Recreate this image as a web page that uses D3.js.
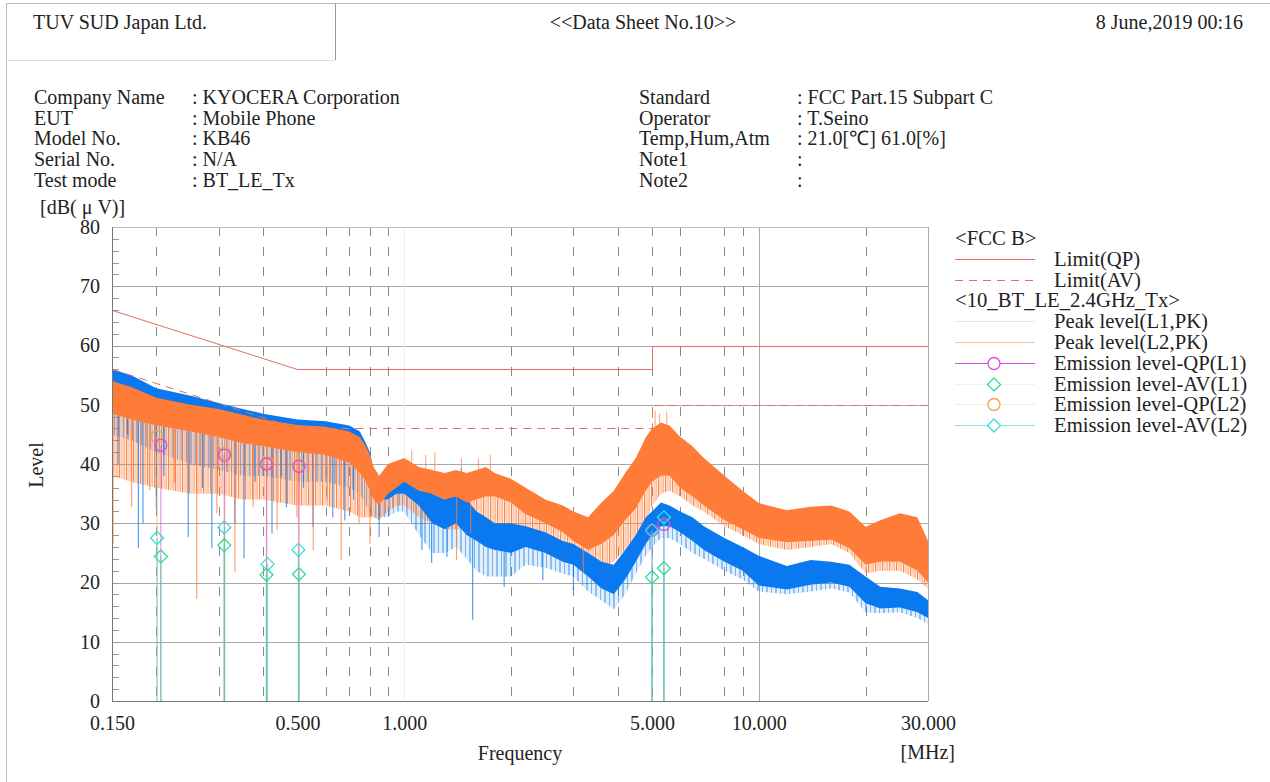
<!DOCTYPE html>
<html><head><meta charset="utf-8">
<script src="https://cdn.jsdelivr.net/npm/d3@7"></script>
<style>
body{margin:0;background:#fff}
svg{display:block}
text{font-family:"Liberation Serif","Times New Roman",serif;fill:#222;font-size:20px}
</style>
</head><body><svg id="c" width="1270" height="782"></svg>
<script>
// ---------- data ----------
const freq = [0.15,0.17,0.2,0.25,0.3,0.35,0.4,0.5,0.6,0.7,0.75,0.78,0.8,0.82,0.85,0.9,0.95,1.0,1.1,1.2,1.3,1.4,1.5,1.6,1.7,1.8,2.0,2.2,2.5,2.8,3.0,3.3,3.6,3.9,4.2,4.5,4.8,5.0,5.3,5.6,6.0,6.5,7.0,8.0,9.0,10,12,14,16,18,20,22,25,28,30];
// Peak level L1 (blue): top of trace, bottom of dense part, bottom of sparse part
const l1Top  = [56,55,52.8,51.5,50.3,49.3,48.5,47.5,47.2,46.5,45.5,43.5,42,39,37.5,37.5,38.5,38,37,35,34,35,34,32,31,30,30,29.5,28.5,27,26.5,25,23.5,23,25.5,28,31,32,33.5,33,32,31,29.5,27.5,26,24.5,22.8,23.8,23.5,23,21,19.3,19,18.4,17];
const l1Core = [53,52,50,49,48,47,46.5,45.5,45,44,41.5,38.5,36.5,35,34,34,35,35,33,30,29,30,28,27,26,25.5,25,26,25,23.5,23,21,19,18,20.5,23.5,26.5,28,29.5,29.5,28.5,27,25.5,23.5,22,19.5,18.8,19.6,20,19.3,16.5,15.6,15.8,15,14];
const l1Low  = [45,44,42,40,39,38,38,37,37,36,35,33,32,31,31,31,32,32,28,25,25,26,24,22,21,21,21,23,22.5,21.5,21,18.5,17,15.5,18,21.5,24.5,26,27.5,27.5,26.5,25,24,22,20.5,18.5,18,18.5,19,18.3,15,14.8,15,14,13];
// Peak level L2 (orange)
const l2Top  = [54,53,51.2,50,49.3,48.3,47.5,46.6,46.3,45.5,44.5,43,41.5,39.5,38,40,40.5,41,39.5,39,38.5,39,38.5,39,39.5,38.5,37.5,36,34,33,32,31,33.5,35.5,38.5,41,44.5,46,47,46.5,44.6,43,41,38,35.5,33.4,32.2,32.8,33,32,29.4,30.5,31.7,31,27];
const l2Core = [48.5,47.5,46.5,45.5,44.5,43.5,43,42,41.5,40.2,38.5,37,35.5,34,33,35,36,37,35.5,35,34,34.5,33.5,34,34.5,34.5,33.5,31.5,30,28.5,27,25.5,26.5,28,30.5,32.5,35.5,37,38,38,36,34.5,33,30.5,29,27.5,26.8,27,27.2,25.8,23,23.5,23.5,22,20];
const l2Low  = [38,37,36,35,35,34,34,33,33,32,31,31,31,31,30.5,32,33,33,31,30,29,29,29,30,30,30,30,28.5,27,26,24.5,22,22.5,23.5,25.5,27.5,30,33,35,35.5,34.5,33,32,29.5,28,26.5,25.5,26,26.5,25,21.5,22,22,20.5,19];
// individual deep dips / tall spikes
const l1DipFreq  = [0.156,0.166,0.178,0.1834,0.2,0.21,0.2461,0.27,0.2869,0.3332,0.3536,0.38,0.4239,0.45,0.4654,0.52,0.5532,0.6291,0.6802,0.72,0.85,1.122,1.195,1.32,1.56,1.914,2.46,3.0];
const l1DipLevel = [40,45,25.8,30,32.7,38,27.7,36,25.8,30,24.1,37,28.3,38,32.7,36,29.4,31,30.5,34,27.7,25.5,23.3,24.3,13.7,19.3,20.4,18.7];
const l2DipFreq  = [0.151,0.1704,0.1915,0.225,0.2601,0.2963,0.3332,0.375,0.438,0.4984,0.5543,0.6055,0.6642,0.7464,0.8008,1.405,1.54,3.2];
const l2DipLevel = [26.6,32.7,35.6,36.8,17.2,31.7,21.8,32.7,28.9,31,25.5,33.9,23.8,30,26.6,23.8,28.3,21.6];
const l1UpFreq  = [1.02,1.45,1.5];
const l1UpLevel = [39,39.3,37];
const l2UpFreq  = [1.05,1.15,1.22,1.45,1.62,1.75,5.1,5.25,5.5];
const l2UpLevel = [42.3,41.5,42,41,41,41.5,49,48.5,48.8];
// limits (FCC B)
const limQpFreq  = [0.15,0.5,5,5,30];
const limQpLevel = [66,56,56,60,60];
const limAvFreq  = [0.15,0.5,5,5,30];
const limAvLevel = [56,46,46,50,50];
// emission markers
const qpL1Freq = [0.206,0.311,0.409,0.505,5.0,5.4];
const qpL1Level = [43.2,41.5,40.0,39.6,28.8,29.8];
const qpL2Freq = [0.201,0.312,0.41,0.504];
const qpL2Level = [44.6,41.8,40.2,39.8];
const avL1Freq = [0.206,0.311,0.409,0.505,5.0,5.4];
const avL1Level = [24.4,26.3,21.3,21.4,20.9,22.4];
const avL2Freq = [0.201,0.311,0.412,0.503,5.0,5.4];
const avL2Level = [27.5,29.3,23.1,25.5,28.8,31.0];
// axes
const yTicks = [0,10,20,30,40,50,60,70,80];
const xTickVals = [0.15,0.5,1,5,10,30];
const xTickLabels = ["0.150","0.500","1.000","5.000","10.000","30.000"];
const dashedGrid = [0.2,0.3,0.4,0.6,0.7,0.8,0.9,2,3,4,5,6,8,9,20];
const legendLabels = ["<FCC B>","Limit(QP)","Limit(AV)","<10_BT_LE_2.4GHz_Tx>","Peak level(L1,PK)","Peak level(L2,PK)","Emission level-QP(L1)","Emission level-AV(L1)","Emission level-QP(L2)","Emission level-AV(L2)"];

// ---------- drawing ----------
const svg = d3.select("#c");
const X0=112, X1=928, Y0=701, Y1=227;
const x = d3.scaleLog().domain([0.15,30]).range([X0,X1]);
const y = d3.scaleLinear().domain([0,80]).range([Y0,Y1]);
const ys = v=>Math.round(y(v))+0.5;   // pixel-snapped y for 1px lines

const BLUE="#0a78ee", ORANGE="#ff7c38";
const LIMC="#e86a6a";
const C_QP1="#d84ed8", C_QP2="#f2a24a", C_AV1="#38d898", C_AV2="#38dcdc";

// hatching patterns that mimic the dense sweep lines
const defs = svg.append("defs");
function stripes(id,col,w,lines){
  const p = defs.append("pattern").attr("id",id).attr("patternUnits","userSpaceOnUse").attr("width",w).attr("height",8);
  lines.forEach(l=>p.append("rect").attr("x",l[0]).attr("y",0).attr("width",l[1]).attr("height",8).attr("fill",col).attr("opacity",l[2]));
}
stripes("hatchO",ORANGE,7,[[0,1.2,0.9],[2.5,1,0.45],[4.6,1,0.7]]);
stripes("hatchB",BLUE,9,[[1.5,1,0.8],[6,1,0.5]]);

// header frame
const g0 = svg.append("g").attr("stroke","#bbb").attr("fill","none");
g0.append("line").attr("x1",6).attr("x2",1270).attr("y1",3.5).attr("y2",3.5);
g0.append("line").attr("x1",6.5).attr("x2",6.5).attr("y1",3).attr("y2",782);
g0.append("line").attr("x1",335.5).attr("x2",335.5).attr("y1",3).attr("y2",60).attr("stroke","#999");
g0.append("line").attr("x1",6).attr("x2",335).attr("y1",60.5).attr("y2",60.5).attr("stroke","#ddd");

svg.append("text").attr("x",33).attr("y",29).text("TUV SUD Japan Ltd.");
svg.append("text").attr("x",643).attr("y",29).attr("text-anchor","middle").text("<<Data Sheet No.10>>");
svg.append("text").attr("x",1243).attr("y",29).attr("text-anchor","end").text("8 June,2019 00:16");

const infoL = [["Company Name",": KYOCERA Corporation"],["EUT",": Mobile Phone"],["Model No.",": KB46"],["Serial No.",": N/A"],["Test mode",": BT_LE_Tx"]];
const infoR = [["Standard",": FCC Part.15 Subpart C"],["Operator",": T.Seino"],["Temp,Hum,Atm",": 21.0[℃] 61.0[%]"],["Note1",":"],["Note2",":"]];
infoL.forEach((r,i)=>{
  svg.append("text").attr("x",34).attr("y",104+i*20.7).text(r[0]);
  svg.append("text").attr("x",192).attr("y",104+i*20.7).text(r[1]);
});
infoR.forEach((r,i)=>{
  svg.append("text").attr("x",639).attr("y",104+i*20.7).text(r[0]);
  svg.append("text").attr("x",797).attr("y",104+i*20.7).text(r[1]);
});

// plot grid
const grid = svg.append("g");
grid.selectAll("line.h").data(yTicks.slice(1,-1)).join("line")
  .attr("x1",X0).attr("x2",X1).attr("y1",d=>ys(d)).attr("y2",d=>ys(d))
  .attr("stroke","#a8a8a8");
grid.selectAll("line.v").data(dashedGrid).join("line")
  .attr("x1",d=>Math.round(x(d))+0.5).attr("x2",d=>Math.round(x(d))+0.5).attr("y1",Y1).attr("y2",Y0)
  .attr("stroke","#8a8a8a").attr("stroke-dasharray","9,11");
grid.append("line").attr("x1",Math.round(x(10))+0.5).attr("x2",Math.round(x(10))+0.5).attr("y1",Y1).attr("y2",Y0).attr("stroke","#aaa");
grid.append("line").attr("x1",Math.round(x(1))+0.5).attr("x2",Math.round(x(1))+0.5).attr("y1",Y1).attr("y2",Y0).attr("stroke","#eee");
// minor ticks every 2 dB
grid.selectAll("line.m").data(d3.range(0,81,2)).join("line")
  .attr("x1",X0).attr("x2",X0+7).attr("y1",d=>ys(d)).attr("y2",d=>ys(d))
  .attr("stroke","#999");

// traces
const pts = (top,low)=>freq.map((f,i)=>({f,hi:top[i],lo:low[i]}));
const area = d3.area().x(d=>x(d.f)).y0(d=>y(d.lo)).y1(d=>y(d.hi));
const tr = svg.append("g");
tr.append("path").attr("d",area(pts(l1Core,l1Low))).attr("fill",BLUE).attr("opacity",0.12);
tr.append("path").attr("d",area(pts(l1Core,l1Low))).attr("fill","url(#hatchB)");
tr.append("path").attr("d",area(pts(l2Core,l2Low))).attr("fill",ORANGE).attr("opacity",0.15);
tr.append("path").attr("d",area(pts(l2Core,l2Low))).attr("fill","url(#hatchO)");
const l1CoreAt = d3.scaleLog().domain(freq).range(l1Core);
const l2CoreAt = d3.scaleLog().domain(freq).range(l2Core);
const l1TopAt = d3.scaleLog().domain(freq).range(l1Top);
const l2TopAt = d3.scaleLog().domain(freq).range(l2Top);
tr.selectAll("line.d1").data(l1DipFreq).join("line")
  .attr("x1",d=>x(d)).attr("x2",d=>x(d)).attr("y1",d=>y(l1CoreAt(d))).attr("y2",(d,i)=>y(l1DipLevel[i]))
  .attr("stroke",BLUE).attr("stroke-width",1.2).attr("opacity",0.7);
tr.append("path").attr("d",area(pts(l1Top,l1Core))).attr("fill",BLUE);
tr.selectAll("line.u1").data(l1UpFreq).join("line")
  .attr("x1",d=>x(d)).attr("x2",d=>x(d)).attr("y1",d=>y(l1TopAt(d))).attr("y2",(d,i)=>y(l1UpLevel[i]))
  .attr("stroke",BLUE).attr("stroke-width",1.2).attr("opacity",0.7);
tr.selectAll("line.d2").data(l2DipFreq).join("line")
  .attr("x1",d=>x(d)).attr("x2",d=>x(d)).attr("y1",d=>y(l2CoreAt(d))).attr("y2",(d,i)=>y(l2DipLevel[i]))
  .attr("stroke",ORANGE).attr("stroke-width",1.2).attr("opacity",0.7);
tr.append("path").attr("d",area(pts(l2Top,l2Core))).attr("fill",ORANGE);
tr.selectAll("line.u2").data(l2UpFreq).join("line")
  .attr("x1",d=>x(d)).attr("x2",d=>x(d)).attr("y1",d=>y(l2TopAt(d))).attr("y2",(d,i)=>y(l2UpLevel[i]))
  .attr("stroke",ORANGE).attr("stroke-width",1.2).attr("opacity",0.6);

// limits (horizontal runs snapped to the same pixel rows as the grid)
const lineF = d3.line().x(d=>Math.round(x(d[0]))+0.5).y(d=>ys(d[1]));
svg.append("path").attr("d",lineF(limQpFreq.map((f,i)=>[f,limQpLevel[i]]))).attr("fill","none")
  .attr("stroke",LIMC).attr("stroke-width",1);
svg.append("path").attr("d",lineF(limAvFreq.map((f,i)=>[f,limAvLevel[i]]))).attr("fill","none")
  .attr("stroke",LIMC).attr("stroke-width",1).attr("stroke-dasharray","8,6");

// markers
const mk = svg.append("g");
function stems(fs,ls,col,op){
  mk.selectAll(null).data(fs).join("line")
    .attr("x1",d=>x(d)).attr("x2",d=>x(d)).attr("y1",(d,i)=>y(ls[i])).attr("y2",Y0)
    .attr("stroke",col).attr("stroke-width",1.2).attr("opacity",op);
}
stems(qpL2Freq,qpL2Level,C_QP2,0.5);
stems(qpL1Freq,qpL1Level,C_QP1,0.6);
stems(avL2Freq,avL2Level,C_AV2,0.6);
stems(avL1Freq,avL1Level,C_AV1,0.6);
const diamond = (cx,cy,r)=>`M${cx},${cy-r}L${cx+r},${cy}L${cx},${cy+r}L${cx-r},${cy}Z`;
function circles(fs,ls,col){
  mk.selectAll(null).data(fs).join("circle").attr("cx",d=>x(d)).attr("cy",(d,i)=>y(ls[i])).attr("r",6)
    .attr("fill","none").attr("stroke",col).attr("stroke-width",1.3);
}
function diamonds(fs,ls,col){
  mk.selectAll(null).data(fs).join("path").attr("d",(d,i)=>diamond(x(d),y(ls[i]),6.5))
    .attr("fill","none").attr("stroke",col).attr("stroke-width",1.3);
}
circles(qpL2Freq,qpL2Level,C_QP2);
circles(qpL1Freq,qpL1Level,C_QP1);
diamonds(avL2Freq,avL2Level,C_AV2);
diamonds(avL1Freq,avL1Level,C_AV1);

// frame
const fr = svg.append("g").attr("fill","none");
fr.append("line").attr("x1",X0).attr("x2",X1).attr("y1",Y1+0.5).attr("y2",Y1+0.5).attr("stroke","#bbb");
fr.append("line").attr("x1",X1+0.5).attr("x2",X1+0.5).attr("y1",Y1).attr("y2",Y0).attr("stroke","#aaa");
fr.append("line").attr("x1",X0+0.5).attr("x2",X0+0.5).attr("y1",Y1).attr("y2",Y0+1).attr("stroke","#777");
fr.append("line").attr("x1",X0).attr("x2",X1).attr("y1",Y0+0.5).attr("y2",Y0+0.5).attr("stroke","#777");

// axes labels
const ya = svg.append("g").attr("transform",`translate(${X0},0)`)
  .call(d3.axisLeft(y).tickValues(yTicks).tickSize(0).tickPadding(12));
ya.select(".domain").remove();
ya.selectAll("text").style("font-size","20px").style("font-family","Liberation Serif, serif").attr("fill","#222");
const xa = svg.append("g").attr("transform",`translate(0,${Y0})`)
  .call(d3.axisBottom(x).tickValues(xTickVals).tickFormat((d,i)=>xTickLabels[i]).tickSize(0).tickPadding(15));
xa.select(".domain").remove();
xa.selectAll("text").style("font-size","20px").style("font-family","Liberation Serif, serif").attr("fill","#222");

svg.append("text").attr("x",40).attr("y",214).text("[dB( μ V)]");
svg.append("text").attr("transform","translate(43,465) rotate(-90)").attr("text-anchor","middle").text("Level");
svg.append("text").attr("x",520).attr("y",760).attr("text-anchor","middle").text("Frequency");
svg.append("text").attr("x",955).attr("y",759).attr("text-anchor","end").text("[MHz]");

// legend
const lg = svg.append("g");
const rowY = i=>245+i*20.8;
legendLabels.forEach((t,i)=>{
  const isHead = (i===0||i===3);
  lg.append("text").attr("x",isHead?955:1054).attr("y",rowY(i)).style("font-size","20.7px").text(t);
});
const ly = i=>Math.round(rowY(i)-7)+0.5;
const samples = [
  {i:1,col:LIMC,dash:null},
  {i:2,col:LIMC,dash:"8,6"},
  {i:4,col:"#d6e8fa",dash:null},
  {i:5,col:"#f8c4a0",dash:null},
  {i:6,col:C_QP1,dash:null,m:"c",mc:C_QP1},
  {i:7,col:"#e2f8ef",dash:null,m:"d",mc:C_AV1},
  {i:8,col:"#fbeadb",dash:null,m:"c",mc:C_QP2},
  {i:9,col:"#7aeaea",dash:null,m:"d",mc:C_AV2}
];
samples.forEach(s=>{
  lg.append("line").attr("x1",955).attr("x2",1035).attr("y1",ly(s.i)).attr("y2",ly(s.i))
    .attr("stroke",s.col).attr("stroke-width",1).attr("stroke-dasharray",s.dash);
  if(s.m==="c") lg.append("circle").attr("cx",994).attr("cy",ly(s.i)).attr("r",6).attr("fill","#fff").attr("stroke",s.mc).attr("stroke-width",1.3);
  if(s.m==="d") lg.append("path").attr("d",diamond(994,ly(s.i),6.5)).attr("fill","#fff").attr("stroke",s.mc).attr("stroke-width",1.3);
});
</script>
</body></html>
